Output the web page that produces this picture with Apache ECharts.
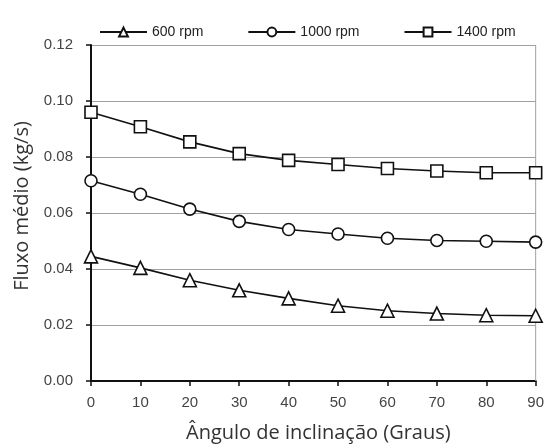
<!DOCTYPE html>
<html>
<head>
<meta charset="utf-8">
<script src="https://cdn.jsdelivr.net/npm/echarts@6/dist/echarts.min.js"></script>
<style>
  html, body { margin: 0; padding: 0; background: #fff; }
  #chart { width: 547px; height: 448px; }
</style>
</head>
<body>
<div id="chart"></div>
<script>
// Inclination angle (degrees)
var angles = [0, 10, 20, 30, 40, 50, 60, 70, 80, 90];
// Mean flow (kg/s) per rotation speed
var rpm600  = [0.0445, 0.0404, 0.0360, 0.0324, 0.0295, 0.0269, 0.0251, 0.0241, 0.0235, 0.0233];
var rpm1000 = [0.0715, 0.0667, 0.0614, 0.0570, 0.0541, 0.0525, 0.0510, 0.0502, 0.0499, 0.0496];
var rpm1400 = [0.0960, 0.0908, 0.0854, 0.0812, 0.0788, 0.0773, 0.0759, 0.0750, 0.0744, 0.0744];
var seriesNames = ['600 rpm', '1000 rpm', '1400 rpm'];
var yTicks = ['0.00', '0.02', '0.04', '0.06', '0.08', '0.10', '0.12'];

function pairs(vals) {
  return angles.map(function (a, i) { return [a, vals[i]]; });
}

var tickFont = 'Liberation Sans, Arial, sans-serif';
var nameFont = 'Open Sans, Noto Sans, sans-serif';

function mkSeries(name, vals, symbol, size) {
  return {
    name: name,
    type: 'line',
    data: pairs(vals),
    symbol: symbol,
    symbolSize: size,
    showAllSymbol: true,
    lineStyle: { color: '#111', width: 1.6 },
    itemStyle: { color: '#fff', borderColor: '#111', borderWidth: 1.6 },
    emphasis: { disabled: true },
    z: 3
  };
}

var chart = echarts.init(document.getElementById('chart'));
chart.setOption({
  animation: false,
  backgroundColor: '#fff',
  textStyle: { fontFamily: tickFont },
  legend: {
    top: 20,
    left: 94,
    itemGap: 44,
    itemWidth: 47,
    itemHeight: 11,
    textStyle: { fontFamily: tickFont, fontSize: 14, color: '#222' },
    data: seriesNames
  },
  grid: { left: 91, right: 9, top: 45, bottom: 65 },
  xAxis: {
    type: 'value',
    min: 0, max: 90, interval: 10,
    name: 'Ângulo de inclinação (Graus)',
    nameLocation: 'middle',
    nameGap: 42,
    nameTextStyle: { fontFamily: nameFont, fontSize: 20, color: '#333', padding: [0, 0, 0, 10] },
    axisLine: { onZero: false, lineStyle: { color: '#111', width: 2 } },
    axisTick: { show: true, length: 5, lineStyle: { color: '#111', width: 1.5 } },
    axisLabel: { fontFamily: tickFont, fontSize: 15, color: '#444', margin: 14 },
    splitLine: { show: false }
  },
  yAxis: {
    type: 'value',
    min: 0, max: 0.12, interval: 0.02,
    name: 'Fluxo médio (kg/s)',
    nameLocation: 'middle',
    nameGap: 59,
    nameRotate: 90,
    nameTextStyle: { fontFamily: nameFont, fontSize: 20, color: '#333', padding: [0, 0, 0, 14] },
    axisLine: { show: true, lineStyle: { color: '#111', width: 2 } },
    axisTick: { show: true, length: 5, lineStyle: { color: '#111', width: 1.5 } },
    axisLabel: {
      fontFamily: tickFont, fontSize: 15, color: '#444', margin: 18,
      formatter: function (v) { return yTicks[Math.round(v / 0.02)]; }
    },
    splitLine: { show: true, lineStyle: { color: '#a0a0a0', width: 1 } }
  },
  series: [
    mkSeries(seriesNames[0], rpm600, 'triangle', 13),
    mkSeries(seriesNames[1], rpm1000, 'circle', 12),
    mkSeries(seriesNames[2], rpm1400, 'rect', 12)
  ]
});

// Right-hand frame line of the plot area, placed via the axis scale
var p0 = chart.convertToPixel({ gridIndex: 0 }, [90, 0]);
var p1 = chart.convertToPixel({ gridIndex: 0 }, [90, 0.12]);
chart.setOption({
  graphic: [{
    type: 'line',
    shape: { x1: p0[0], y1: p0[1], x2: p1[0], y2: p1[1] },
    style: { stroke: '#a0a0a0', lineWidth: 1 },
    z: 1
  }]
});
</script>
</body>
</html>
